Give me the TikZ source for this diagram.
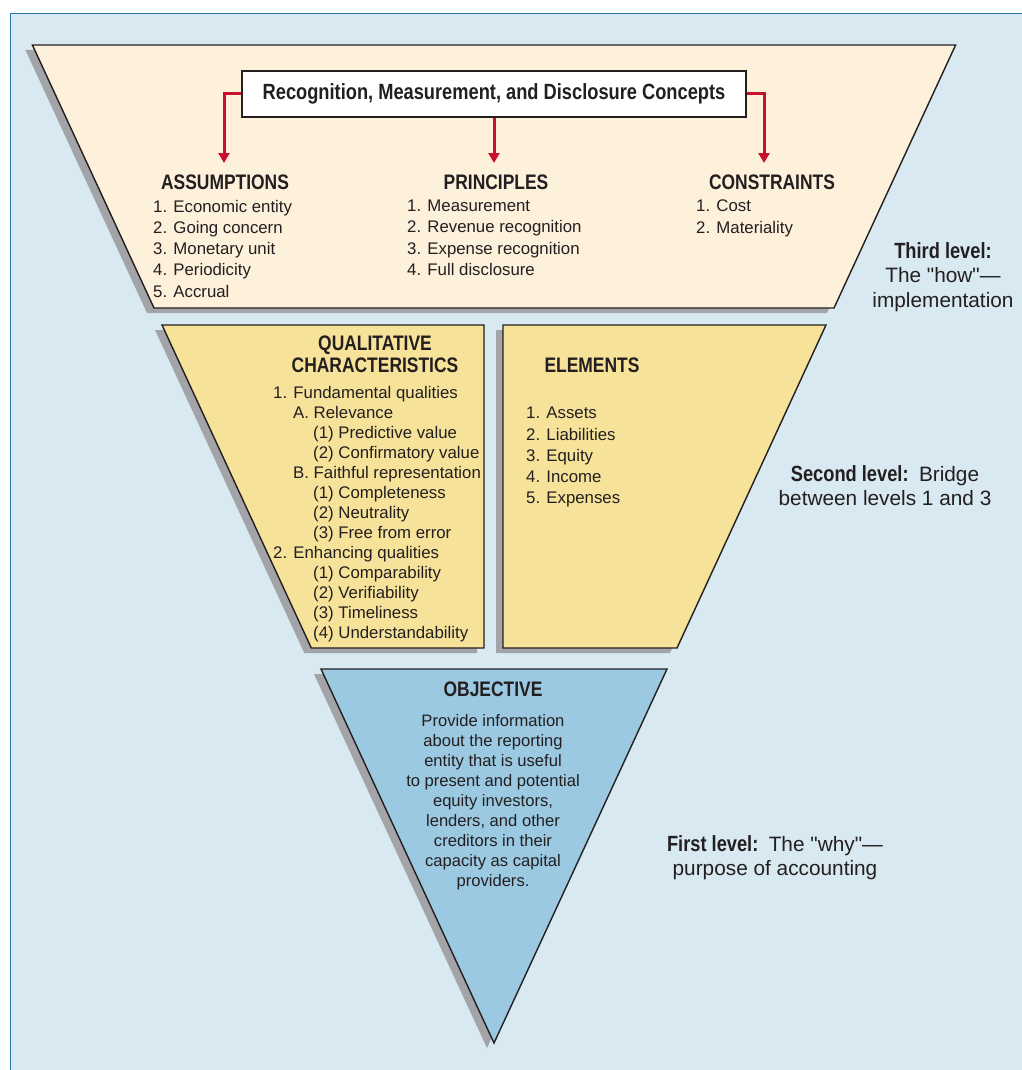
\documentclass[tikz,border=0pt]{standalone}
\usepackage{fontspec}
\setmainfont{Liberation Sans}
\newfontfamily\headfont[FakeStretch=0.83]{Liberation Sans}
\newfontfamily\notefont{Liberation Sans}
\usepackage{tikz}
\usetikzlibrary{shapes,arrows.meta,positioning}
\definecolor{ink}{RGB}{35,31,32}
\definecolor{bgblue}{RGB}{216,233,242}
\definecolor{frameblue}{RGB}{40,120,175}
\definecolor{cream}{RGB}{254,241,219}
\definecolor{straw}{RGB}{246,226,153}
\definecolor{skyblue}{RGB}{155,201,226}
\definecolor{shadowgray}{RGB}{163,164,168}
\definecolor{arrowred}{RGB}{200,16,46}
\tikzstyle{band} = [draw=ink, line width=1.4pt, line join=miter]
\tikzstyle{shade} = [fill=shadowgray, draw=none]
\tikzstyle{head} = [inner sep=0pt, text=ink, align=center, font=\headfont\bfseries\fontsize{21}{22}\selectfont]
\tikzstyle{items} = [inner sep=0pt, text=ink, align=left, anchor=north west, font=\fontsize{16.8}{21.2}\selectfont]
\tikzstyle{sidenote} = [inner sep=0pt, text=ink, align=center, anchor=north, font=\notefont\fontsize{20.8}{24.8}\selectfont]
\tikzstyle{tedge} = [draw=arrowred, line width=3pt, >={Triangle[length=10pt,width=11pt]}, ->]
\newcommand{\sidehead}[1]{{\headfont\bfseries\fontsize{22}{24.8}\selectfont #1}}

\begin{document}
\begin{tikzpicture}[x=1pt, y=-1pt]

\useasboundingbox (0,0) rectangle (1021,1070);
\fill[white] (0,0) rectangle (1021,1070);
\filldraw[fill=bgblue, draw=frameblue, line width=1pt] (10.5,13.5) rectangle (1040,1090);

% shadows =============================
\fill[shade] (25.4,50) -- (948.6,50) -- (827,313) -- (147,313) -- cycle;
\fill[shade] (155,330) -- (477,330) -- (477,653) -- (304.3,653) -- cycle;
\fill[shade] (496,330) -- (819,330) -- (670,653) -- (496,653) -- cycle;
\fill[shade] (314,674) -- (660,674) -- (487,1048) -- cycle;

% levels
\draw[band, fill=cream] (32.4,45) -- (955.6,45) -- (834,308) -- (154,308) -- cycle;
\draw[band, fill=straw] (162,325) -- (484,325) -- (484,648) -- (311.3,648) -- cycle;
\draw[band, fill=straw] (503,325) -- (826,325) -- (677,648) -- (503,648) -- cycle;
\draw[band, fill=skyblue] (321,669) -- (667,669) -- (494,1043) -- cycle;

% third level =============================
\node[draw=ink, line width=1.4pt, fill=white, minimum width=504pt, minimum height=46pt, inner sep=0pt, text=ink,
      font=\headfont\bfseries\fontsize{22}{22}\selectfont] (concepts) at (494,94) {Recognition, Measurement, and Disclosure Concepts};

\node[head] (assumptions) at (225,182) {ASSUMPTIONS};
\node[head] (principles) at (496,182) {PRINCIPLES};
\node[head] (constraints) at (772,182) {CONSTRAINTS};

\node[items] (assumelist) at (153,200) {1. Economic entity\\2. Going concern\\3. Monetary unit\\4. Periodicity\\5. Accrual};
\node[items] (princlist) at (407,200) {1. Measurement\\2. Revenue recognition\\3. Expense recognition\\4. Full disclosure};
\node[items] (constrlist) at (696,200) {1. Cost\\2. Materiality};

\coordinate (tipA) at (224,163);
\coordinate (tipP) at (494,163);
\coordinate (tipC) at (764,163);

% edges
\path[tedge] (concepts.west) -| (tipA);
\path[tedge] (concepts.south) -- (tipP);
\path[tedge] (concepts.east) -| (tipC);

% second level =============================
\node[head] (qualitative) at (375,354) {QUALITATIVE\\CHARACTERISTICS};
\node[items, font=\fontsize{16.8}{20}\selectfont] (quallist) at (273,386) {1. Fundamental qualities\\
  \hspace*{20pt}A. Relevance\\
  \hspace*{40pt}(1) Predictive value\\
  \hspace*{40pt}(2) Confirmatory value\\
  \hspace*{20pt}B. Faithful representation\\
  \hspace*{40pt}(1) Completeness\\
  \hspace*{40pt}(2) Neutrality\\
  \hspace*{40pt}(3) Free from error\\
  2. Enhancing qualities\\
  \hspace*{40pt}(1) Comparability\\
  \hspace*{40pt}(2) Verifiability\\
  \hspace*{40pt}(3) Timeliness\\
  \hspace*{40pt}(4) Understandability};

\node[head] (elements) at (592,365) {ELEMENTS};
\node[items, font=\fontsize{16.8}{21.3}\selectfont] (elemlist) at (526,407) {1. Assets\\2. Liabilities\\3. Equity\\4. Income\\5. Expenses};

% first level =============================
\node[head] (objective) at (493,689) {OBJECTIVE};
\node[items, anchor=north, align=center, font=\fontsize{16.6}{20}\selectfont] (objtext) at (493,714) {Provide information\\about the reporting\\entity that is useful\\to present and potential\\equity investors,\\lenders, and other\\creditors in their\\capacity as capital\\providers.};

% level notes
\node[sidenote] (third) at (943,242) {\sidehead{Third level:}\\The "how"—\\implementation};
\node[sidenote] (second) at (885,465) {\sidehead{Second level:}\enspace Bridge\\between levels 1 and 3};
\node[sidenote] (first) at (775,835) {\sidehead{First level:}\enspace The "why"—\\purpose of accounting};

\end{tikzpicture}
\end{document}
